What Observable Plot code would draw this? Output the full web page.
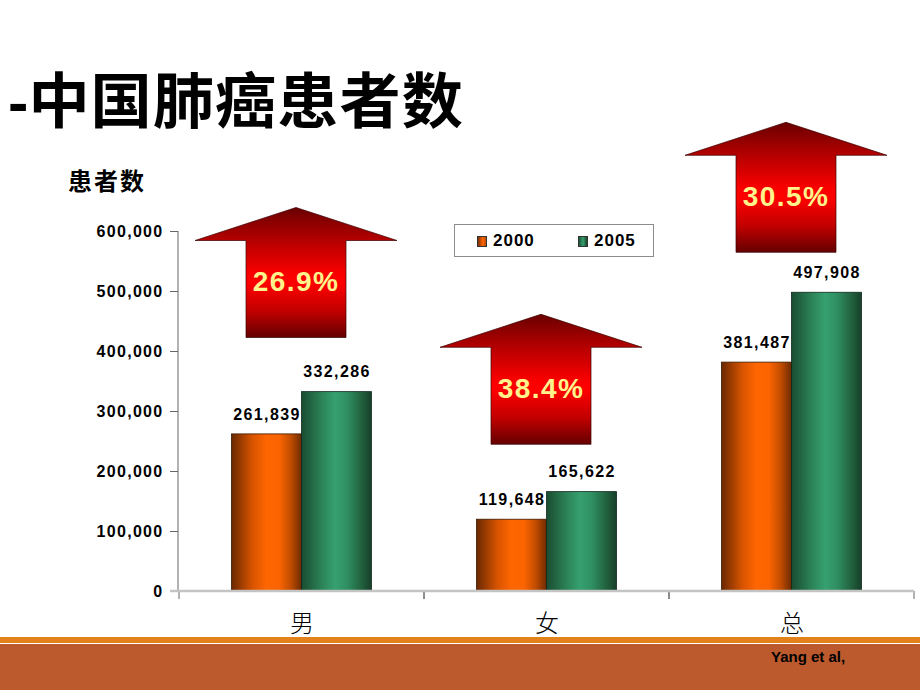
<!DOCTYPE html>
<html>
<head>
<meta charset="utf-8">
<script src="https://cdn.jsdelivr.net/npm/d3@7"></script>
<script src="https://cdn.jsdelivr.net/npm/@observablehq/plot@0.6"></script>
<style>
  html, body { margin: 0; padding: 0; background: #fff; }
  body { width: 920px; height: 690px; position: relative; overflow: hidden; font-family: "Liberation Sans", Arial, sans-serif; }
  #title { position: absolute; left: 8px; top: 67px; font-family: "Noto Sans CJK SC", "Liberation Sans", sans-serif; font-weight: bold; font-size: 60px; line-height: 60px; letter-spacing: 1px; color: #000; white-space: nowrap; transform: scaleX(1.02); transform-origin: 0 0; }
  #title .dash { font-family: "Liberation Sans", Arial, sans-serif; letter-spacing: 0px; }
  #ylabel { position: absolute; left: 68px; top: 166px; font-family: "Noto Sans CJK SC", sans-serif; font-weight: bold; font-size: 24px; line-height: 28px; letter-spacing: 2px; color: #000; }
  #chart { position: absolute; left: 0; top: 0; }
  #legend { position: absolute; left: 454px; top: 224px; width: 200px; height: 33px; border: 1px solid #8c8c8c; box-sizing: border-box; background: #fff; font-weight: bold; font-size: 17px; letter-spacing: 1px; color: #000; }
  #legend .item { position: absolute; top: 7px; line-height: 18px; }
  #legend .sw { position: absolute; top: 4px; width: 10px; height: 11px; border: 1px solid #333; box-sizing: border-box; }
  #footer-line { position: absolute; left: 0; top: 637px; width: 920px; height: 6px; background: #E3821A; }
  #footer { position: absolute; left: 0; top: 644px; width: 920px; height: 46px; background: #BC5A2D; }
  #source { position: absolute; left: 771px; top: 648px; font-family: "Liberation Sans Narrow", "Liberation Sans", Arial, sans-serif; font-weight: bold; font-size: 15px; color: #000; }
  #chart [aria-label^="y-axis"] text { font-family: "Liberation Sans", Arial, sans-serif; font-weight: bold; font-size: 16px; letter-spacing: 1.3px; fill: #000; }
  #chart [aria-label^="x-axis"] text { font-family: "Noto Sans CJK SC", sans-serif; font-weight: 300; font-size: 24px; fill: #000; }
  #chart [aria-label^="y-axis"] line, #chart [aria-label^="y-axis"] path { stroke: #666; }
  #chart g[aria-label="text"] text { letter-spacing: 1.4px; }
</style>
</head>
<body>
<div id="title"><span class="dash">-</span>中国肺癌患者数</div>
<div id="ylabel">患者数</div>
<div id="chart"></div>
<div id="legend">
  <span class="sw" style="left:22px;top:11px;background:linear-gradient(90deg,#7a2e00,#ff6600 60%,#c04c00)"></span>
  <span class="item" style="left:38px">2000</span>
  <span class="sw" style="left:123px;top:11px;background:linear-gradient(90deg,#1c5235,#36a070 50%,#18432c)"></span>
  <span class="item" style="left:139px">2005</span>
</div>
<div id="footer-line"></div>
<div id="footer"></div>
<div id="source">Yang et al,</div>
<script>
// ---- data ----
const categories = ["男", "女", "总"];
const years = ["2000", "2005"];
const values2000 = [261839, 119648, 381487];
const values2005 = [332286, 165622, 497908];
const growthLabels = ["26.9%", "38.4%", "30.5%"];
const arrowTops = [640000, 462000, 782000];
const yTicks = [0, 100000, 200000, 300000, 400000, 500000, 600000];

const rows2000 = categories.map((c, i) => ({cat: c, year: years[0], value: values2000[i]}));
const rows2005 = categories.map((c, i) => ({cat: c, year: years[1], value: values2005[i]}));
const arrows = categories.map((c, i) => ({cat: c, top: arrowTops[i], label: growthLabels[i]}));

const fmt = d3.format(",");

const arrowSymbol = {
  draw(ctx) {
    const hw = 101, sw = 50, hh = 33, h = 130;
    ctx.moveTo(0, 0);
    ctx.lineTo(hw, hh);
    ctx.lineTo(sw, hh);
    ctx.lineTo(sw, h);
    ctx.lineTo(-sw, h);
    ctx.lineTo(-sw, hh);
    ctx.lineTo(-hw, hh);
    ctx.closePath();
  }
};

function defs() {
  const d = d3.create("svg:defs");
  const mk = (id, stops, vertical) => {
    const g = d.append("linearGradient").attr("id", id)
      .attr("x1", 0).attr("y1", 0).attr("x2", vertical ? 0 : 1).attr("y2", vertical ? 1 : 0);
    stops.forEach(([o, c]) => g.append("stop").attr("offset", o).attr("stop-color", c));
  };
  mk("gOrange", [[0, "#6a2800"], [0.3, "#d85400"], [0.5, "#ff6600"], [0.68, "#fb6400"], [0.85, "#c04c00"], [1, "#6e2a00"]], false);
  mk("gGreen", [[0, "#1a4c32"], [0.3, "#2c8558"], [0.48, "#36a070"], [0.65, "#2f8f62"], [0.85, "#22633f"], [1, "#173f2a"]], false);
  mk("gArrow", [[0, "#6a0000"], [0.25, "#b40000"], [0.5, "#f80000"], [0.58, "#ff0000"], [0.8, "#c00000"], [1, "#640000"]], true);
  return d.node();
}

function axisDecor(index, scales, values, dim) {
  const g = d3.create("svg:g");
  const x = scales.x, y = scales.y;
  const left = dim.marginLeft, right = dim.width - dim.marginRight;
  const yb = y(0), yt = y(yTicks[yTicks.length - 1]);
  g.append("line").attr("x1", left).attr("x2", left).attr("y1", yt).attr("y2", yb)
    .attr("stroke", "#666").attr("stroke-width", 1);
  const bw = x.bandwidth();
  categories.forEach(c => {
    [x(c), x(c) + bw].forEach(px => {
      g.append("line").attr("x1", px).attr("x2", px).attr("y1", yb).attr("y2", yb + 8)
        .attr("stroke", "#666").attr("stroke-width", 1);
    });
  });
  g.append("line").attr("x1", left - 8).attr("x2", right).attr("y1", yb).attr("y2", yb)
    .attr("stroke", "#c4c4c4").attr("stroke-width", 2.5);
  return g.node();
}

const chart = Plot.plot({
  width: 920,
  height: 690,
  marginLeft: 178,
  marginRight: 6,
  marginTop: 231,
  marginBottom: 99,
  style: {background: "transparent", overflow: "visible"},
  x: {domain: categories, padding: 0, label: null, tickSize: 0, tickPadding: 23, axis: "bottom"},
  y: {domain: [0, 600000], ticks: yTicks, tickFormat: fmt, label: null, tickSize: 8, tickPadding: 7},
  marks: [
    defs,
    Plot.barY(rows2000, {x: "cat", y: "value", insetLeft: 52.5, insetRight: 122.5, fill: "url(#gOrange)", stroke: "#3a1800", strokeWidth: 0.8}),
    Plot.barY(rows2005, {x: "cat", y: "value", insetLeft: 122.5, insetRight: 52.5, fill: "url(#gGreen)", stroke: "#0f2a1c", strokeWidth: 0.8}),
    axisDecor,
    Plot.text(rows2000, {x: "cat", y: "value", text: d => fmt(d.value), dx: -35, dy: -20, fontSize: 16, fontWeight: "bold", fill: "#000", fontFamily: "Liberation Sans, Arial, sans-serif"}),
    Plot.text(rows2005, {x: "cat", y: "value", text: d => fmt(d.value), dx: 35, dy: -20, fontSize: 16, fontWeight: "bold", fill: "#000", fontFamily: "Liberation Sans, Arial, sans-serif"}),
    Plot.dot(arrows, {x: "cat", y: "top", symbol: arrowSymbol, fill: "url(#gArrow)", stroke: "#3a0000", strokeWidth: 0.7, dx: -6}),
    Plot.text(arrows, {x: "cat", y: "top", text: "label", dx: -6, dy: 75, fontSize: 28, fontWeight: "bold", fill: "#FFF38C", fontFamily: "Liberation Sans, Arial, sans-serif"})
  ]
});
document.getElementById("chart").appendChild(chart);
</script>
</body>
</html>
